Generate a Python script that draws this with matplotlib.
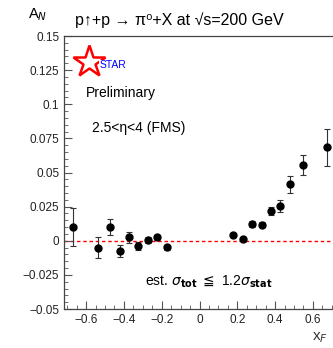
import matplotlib.pyplot as plt
from matplotlib.ticker import MultipleLocator

plt.rcParams['font.family'] = ['Liberation Sans', 'DejaVu Sans']
plt.rcParams['mathtext.fontset'] = 'dejavusans'

# data
xf = [-0.668, -0.539, -0.474, -0.421, -0.371, -0.324, -0.271, -0.223, -0.170,
      0.179, 0.232, 0.276, 0.329, 0.377, 0.426, 0.479, 0.546, 0.676]
an = [0.0099, -0.0051, 0.0099, -0.0073, 0.0025, -0.0038, 0.0005, 0.0025, -0.0048,
      0.0042, 0.0010, 0.0123, 0.0118, 0.0218, 0.0255, 0.0413, 0.0553, 0.0685]
err = [0.0140, 0.0075, 0.0060, 0.0045, 0.0040, 0.0030, 0.0020, 0.0020, 0.0018,
       0.0015, 0.0015, 0.0020, 0.0020, 0.0030, 0.0047, 0.0063, 0.0073, 0.0135]

fig = plt.figure(figsize=(3.33, 3.48), dpi=100)
ax = fig.add_axes([0.1922, 0.112, 0.8326, 0.7845])

ax.axhline(0, color='red', ls=(0, (2.5, 2)), lw=1.0, zorder=1)
ax.errorbar(xf, an, yerr=err, fmt='o', color='black', ms=5, capsize=2.5,
            elinewidth=0.8, capthick=0.8, ecolor='#333333', zorder=3)

ax.set_xlim(-0.717, 0.75)
ax.set_ylim(-0.05, 0.15)
ax.xaxis.set_minor_locator(MultipleLocator(0.05))
ax.yaxis.set_minor_locator(MultipleLocator(0.005))
ax.set_xticks([-0.6, -0.4, -0.2, 0, 0.2, 0.4, 0.6])
ax.set_xticklabels(['\u22120.6', '\u22120.4', '\u22120.2', '0', '0.2', '0.4', '0.6'])
ax.set_yticks([-0.05, -0.025, 0, 0.025, 0.05, 0.075, 0.1, 0.125, 0.15])
ax.set_yticklabels(['\u22120.05', '\u22120.025', '0', '0.025', '0.05', '0.075',
                    '0.1', '0.125', '0.15'])
ax.tick_params(which='both', direction='in', labelsize=8.5, color='#555555',
               labelcolor='#222222')
ax.tick_params(which='major', length=6, width=0.8)
ax.tick_params(which='minor', length=3, width=0.6)
for s in ax.spines.values():
    s.set_linewidth(0.9)
    s.set_color('#444444')

# logo and labels
ax.plot([0.09], [0.905], marker='*', ms=24, mfc='none', mec='red', mew=1.8,
        transform=ax.transAxes, clip_on=False)
ax.text(0.127, 0.894, 'STAR', color='blue', fontsize=7.5, transform=ax.transAxes,
        va='center', bbox=dict(fc='white', ec='none', pad=0.3))
ax.text(0.079, 0.791, 'Preliminary', fontsize=10, transform=ax.transAxes,
        va='center')
ax.text(0.101, 0.663, '2.5<\u03b7<4 (FMS)', fontsize=10, transform=ax.transAxes,
        va='center')
ax.text(0.293, 0.1, r'est. $\sigma_{\mathbf{tot}}$ $\leqq$ 1.2$\sigma_{\mathbf{stat}}$',
        fontsize=10, transform=ax.transAxes, va='center')

fig.text(28 / 333, 1 - 15 / 348, r'A$_N$', fontsize=10.5, va='center')
fig.text(75 / 333, 1 - 20 / 348, 'p\u2191+p \u2192 \u03c0\u2070+X at \u221as=200 GeV',
         fontsize=11.5, va='center')
fig.text(312 / 333, 1 - 338 / 348, r'x$_F$', fontsize=11, va='center', color='#333333')

plt.savefig('out.png', dpi=100)
